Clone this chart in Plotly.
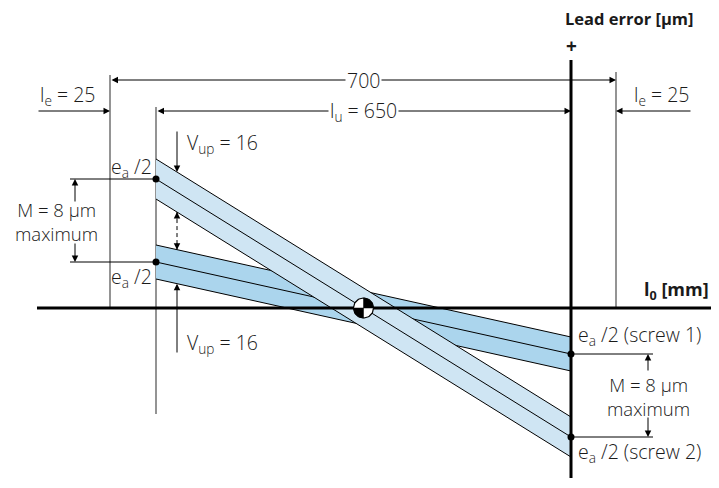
import numpy as np
import plotly.graph_objects as go

# schematic units: x along the screw (0 = lead-error axis), y = lead error (0 = l0 axis)
x_ends = [-415, 0]                 # start / end of useful travel lu
screw1_center = [46, -46]          # e_a/2 at both ends, screw 1
screw2_center = [129, -129]        # e_a/2 at both ends, screw 2
screw1_half = 17                   # half of Vup tolerance band
screw2_half = 20
light_blue = "#cfe5f3"
dark_blue = "#abd5ed"
gray = "#707070"
FONT = "Open Sans"

fig = go.Figure()


def line(xs, ys, color="black", width=1, dash=None):
    fig.add_trace(go.Scatter(x=xs, y=ys, mode="lines", hoverinfo="skip",
                             line=dict(color=color, width=width, dash=dash)))


def band(center, half, color):
    yt = [c + half for c in center]
    yb = [c - half for c in center]
    fig.add_trace(go.Scatter(x=x_ends + x_ends[::-1], y=yt + yb[::-1], fill="toself",
                             fillcolor=color, mode="none", hoverinfo="skip"))
    for ys in (yt, center, yb):
        line(x_ends, ys)


def arrow(x, y, ax, ay, both=False):
    fig.add_annotation(x=x, y=y, ax=ax, ay=ay, xref="x", yref="y", axref="x", ayref="y",
                       text="", showarrow=True, arrowhead=2, arrowsize=1.3, arrowwidth=1,
                       arrowcolor="black", arrowside="end+start" if both else "end",
                       startarrowhead=2, startarrowsize=1.3)


def label(x, y, text, anchor="center", size=19.5, bold=False, bg=None):
    fig.add_annotation(x=x, y=y, xref="x", yref="y", text=text, showarrow=False,
                       xanchor=anchor, yanchor="middle", bgcolor=bg, borderpad=1,
                       font=dict(family=FONT, size=size, color="#1a1a1a",
                                 weight=700 if bold else 300))


# gray reference verticals
line([-461, -461], [0, 233], gray, 1.5)
line([x_ends[0], x_ends[0]], [-106, 201], gray, 1.5)
line([45, 45], [0, 236], gray, 1.5)

# tolerance bands (steep band sits on top)
band(screw1_center, screw1_half, dark_blue)
band(screw2_center, screw2_half, light_blue)

# axes
line([-534, 148], [0, 0], "black", 3)
line([0, 0], [-170, 248], "black", 3)

# end points e_a/2
fig.add_trace(go.Scatter(x=[x_ends[0], x_ends[0], x_ends[1], x_ends[1]],
                         y=[screw2_center[0], screw1_center[0], screw1_center[1], screw2_center[1]],
                         mode="markers", marker=dict(color="black", size=7), hoverinfo="skip"))

# crossing point symbol
k = (screw2_center[0] - screw2_center[1]) / (x_ends[1] - x_ends[0])
cx = x_ends[0] + screw2_center[0] / k
r = 10
t = np.linspace(0, 2 * np.pi, 60)
fig.add_trace(go.Scatter(x=cx + r * np.cos(t), y=r * np.sin(t), fill="toself", fillcolor="white",
                         mode="lines", line=dict(color="black", width=1.2), hoverinfo="skip"))
for a0 in (0, np.pi):
    q = np.linspace(a0, a0 + np.pi / 2, 15)
    fig.add_trace(go.Scatter(x=np.r_[cx, cx + r * np.cos(q), cx], y=np.r_[0, r * np.sin(q), 0],
                             fill="toself", fillcolor="black", mode="lines",
                             line=dict(color="black", width=0.5), hoverinfo="skip"))

# dimension 700 and lu = 650
arrow(45, 228, -461, 228, both=True)
label(-208, 228, "700", bg="white")
arrow(0, 197, x_ends[0], 197, both=True)
label(-208, 197, "l<sub>u</sub> = 650", bg="white")

# le = 25 both ends
arrow(-461, 197, -534, 197)
label(-504, 213, "l<sub>e</sub> = 25")
arrow(45, 197, 121, 197)
label(90, 213, "l<sub>e</sub> = 25")

# M = 8 um left
line([-501, x_ends[0]], [screw2_center[0]] * 2, "black", 1)
line([-501, x_ends[0]], [screw1_center[0]] * 2, "black", 1)
arrow(-496, screw2_center[0], -496, 105)
arrow(-496, screw1_center[0], -496, 66)
label(-515, 87, "M = 8 µm<br>maximum", size=18.5)

# M = 8 um right
line([0, 82], [screw1_center[1]] * 2, "black", 1)
line([0, 82], [screw2_center[1]] * 2, "black", 1)
arrow(77, screw1_center[1], 77, -64)
arrow(77, screw2_center[1], 77, -108)
label(77, -88, "M = 8 µm<br>maximum", size=18.5)

# Vup markers
xv = -394
s1 = np.interp(xv, x_ends, screw1_center)
s2 = np.interp(xv, x_ends, screw2_center)
arrow(xv, s2 + screw2_half, xv, 178)
label(-386, 165, "V<sub>up</sub> = 16", anchor="left")
line([xv, xv], [s2 - screw2_half, s1 + screw1_half], "black", 1, "4px,3px")
arrow(xv, s2 - screw2_half, xv, s2 - screw2_half - 8)
arrow(xv, s1 + screw1_half, xv, s1 + screw1_half + 8)
arrow(xv, s1 - screw1_half, xv, -46)
label(-386, -35, "V<sub>up</sub> = 16", anchor="left")

# e_a/2 labels
label(-417, 141, "e<sub>a</sub> /2", anchor="right")
label(-417, 31, "e<sub>a</sub> /2", anchor="right")
label(5, -27, "e<sub>a</sub> /2 (screw 1)", anchor="left")
label(5, -144, "e<sub>a</sub> /2 (screw 2)", anchor="left")

# axis titles
label(-8, 290, "Lead error [µm]", anchor="left", size=16.5, bold=True)
label(0, 262, "+", size=19, bold=True)
label(140, 18, "l<sub>0</sub> [mm]", anchor="right", size=18, bold=True)

# page body adds 8 px on top/left, so the figure is 8 px smaller
fig.update_layout(width=711, height=480, margin=dict(l=0, r=0, t=0, b=0),
                  paper_bgcolor="white", plot_bgcolor="white", showlegend=False,
                  xaxis=dict(range=[-563, 148], visible=False, fixedrange=True),
                  yaxis=dict(range=[-180, 300], visible=False, fixedrange=True))
fig.write_html("out.html")
